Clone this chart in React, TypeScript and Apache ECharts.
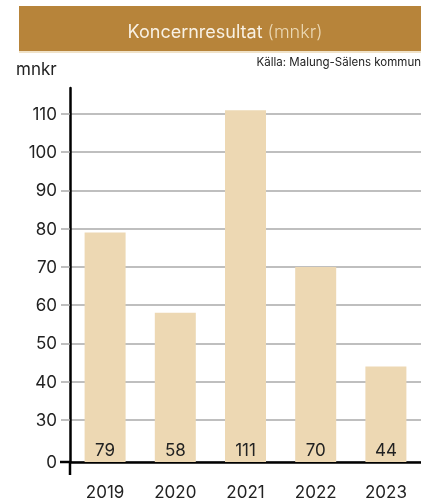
import React, { useEffect, useRef } from "react";
import * as echarts from "echarts";

const categories = ["2019", "2020", "2021", "2022", "2023"];
const values = [79, 58, 111, 70, 44];
const yTickValues = [30, 40, 50, 60, 70, 80, 90, 100, 110];
const axisBaseValue = 19; // shown as "0" (broken axis)
const axisTopValue = 116.8;
const titleMain = "Koncernresultat";
const titleUnit = "(mnkr)";
const unitLabel = "mnkr";
const sourceLabel = "Källa: Malung-Sälens kommun";

const FONT = "Inter, 'Noto Sans', sans-serif";
const GRID_LEFT = 70;
const GRID_TOP = 88;
const GRID_BOTTOM = 42;
const H = 504;

export default function App() {
  const ref = useRef<HTMLDivElement>(null);
  useEffect(() => {
    if (!ref.current) return;
    const chart = echarts.init(ref.current, undefined, { renderer: "svg" });
    const baseY = H - GRID_BOTTOM;
    chart.setOption({
      animation: false,
      textStyle: { fontFamily: FONT },
      title: {
        text: `{a|${titleMain}} {b|${titleUnit}}`,
        left: 220,
        textAlign: "center",
        top: 17,
        textStyle: {
          fontWeight: "normal",
          rich: {
            a: { color: "#F8F1E4", fontSize: 18, fontFamily: FONT, fontWeight: "normal" },
            b: { color: "#EBD8B4", fontSize: 18, fontFamily: FONT, fontWeight: 300 },
          },
        },
      },
      graphic: [
        { type: "rect", z: -1, shape: { x: 19, y: 6, width: 402, height: 45 }, style: { fill: "#B7843A" } },
        { type: "rect", z: -1, shape: { x: 19, y: 51, width: 402, height: 2 }, style: { fill: "#F0E2C8" } },
        {
          type: "text", x: 16, y: 60,
          style: { text: unitLabel, fontSize: 17, fill: "#222", fontFamily: FONT },
        },
        {
          type: "text", x: 421, y: 56,
          style: { text: sourceLabel, fontSize: 11.5, fill: "#222", fontFamily: FONT, align: "right" },
        },
        {
          type: "line", z: 10,
          shape: { x1: GRID_LEFT, y1: baseY - 1, x2: GRID_LEFT, y2: baseY + 13 },
          style: { stroke: "#000", lineWidth: 2.5 },
        },
        {
          type: "line", z: 10,
          shape: { x1: GRID_LEFT - 10, y1: baseY, x2: GRID_LEFT, y2: baseY },
          style: { stroke: "#000", lineWidth: 2.5 },
        },
      ],
      grid: { left: GRID_LEFT, top: GRID_TOP, bottom: GRID_BOTTOM, width: 362, containLabel: false },
      xAxis: {
        type: "category",
        data: categories,
        axisLine: { show: true, onZero: false, lineStyle: { color: "#000", width: 2.5 } },
        axisTick: { show: false },
        axisLabel: { color: "#222", fontSize: 17, margin: 21, fontFamily: FONT },
        splitLine: { show: false },
      },
      yAxis: {
        type: "value",
        min: axisBaseValue,
        max: axisTopValue,
        axisLine: { show: true, lineStyle: { color: "#000", width: 2.5 } },
        axisTick: {
          show: true,
          length: 9,
          customValues: [axisBaseValue, ...yTickValues],
          lineStyle: { color: "#aaa", width: 1.5 },
        },
        axisLabel: {
          color: "#222",
          fontSize: 17,
          margin: 13,
          fontFamily: FONT,
          customValues: [axisBaseValue, ...yTickValues],
          formatter: (v: number) => (v === axisBaseValue ? "0" : String(v)),
        },
        splitLine: { show: true, lineStyle: { color: "#aaa", width: 1.5 } },
      },
      series: [
        {
          type: "bar",
          data: values,
          barWidth: 41,
          itemStyle: { color: "#EDD8B3" },
          label: {
            show: true,
            position: "insideBottom",
            distance: 4,
            color: "#222",
            fontSize: 17,
            fontFamily: FONT,
          },
        },
      ],
    });
    return () => chart.dispose();
  }, []);
  return <div ref={ref} style={{ position: "fixed", left: 0, top: 0, width: 421, height: 504 }} />;
}
